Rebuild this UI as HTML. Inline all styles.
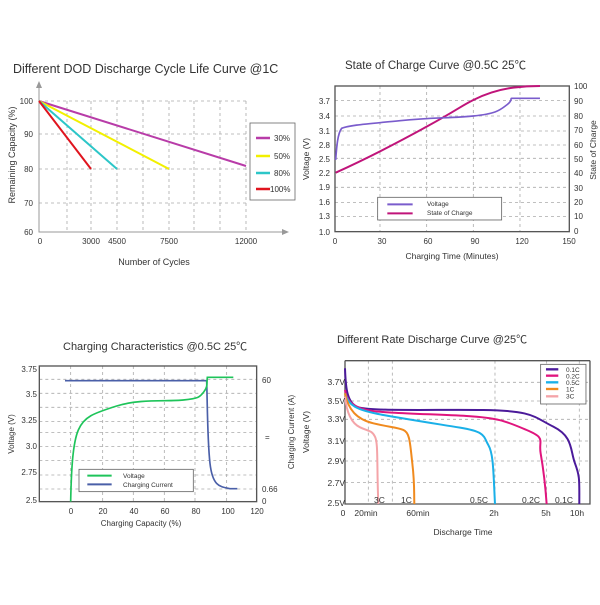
<!DOCTYPE html>
<html><head><meta charset="utf-8"><style>
body{margin:0;background:#fff;width:600px;height:600px;overflow:hidden}
text{font-family:"Liberation Sans","Noto Sans CJK SC",sans-serif;fill:#333}
</style></head><body>
<svg width="600" height="600" viewBox="0 0 600 600" xmlns="http://www.w3.org/2000/svg">
<!-- Chart 1 -->
<text x="13" y="73" font-size="12.5">Different DOD Discharge Cycle Life Curve @1C</text>
<g stroke="#aaa" stroke-dasharray="3,3" stroke-width="0.8" fill="none">
<path d="M39 101H246M39 134H246M39 169H246M39 203H246"/>
<path d="M67 101V232M91 101V232M117 101V232M143 101V232M169 101V232M194 101V232M220 101V232M246 101V232"/>
</g>
<path d="M39 85V232H285" stroke="#999" stroke-width="1" fill="none"/>
<path d="M36 88L39 81L42 88Z M282 229L289 232L282 235Z" fill="#999"/>
<g font-size="8" text-anchor="end"><text x="33" y="104">100</text><text x="33" y="137">90</text><text x="33" y="172">80</text><text x="33" y="206">70</text><text x="33" y="235">60</text></g>
<g font-size="8" text-anchor="middle"><text x="40" y="244">0</text><text x="91" y="244">3000</text><text x="117" y="244">4500</text><text x="169" y="244">7500</text><text x="246" y="244">12000</text></g>
<text x="154" y="265" font-size="9" text-anchor="middle">Number of Cycles</text>
<text transform="translate(15,155) rotate(-90)" font-size="9" text-anchor="middle">Remaining Capacity (%)</text>
<g stroke-width="2" fill="none">
<path d="M39 101L246 166" stroke="#b83ca8"/>
<path d="M39 101L169 169" stroke="#f2f000"/>
<path d="M39 101L117 169" stroke="#2cc6c8"/>
<path d="M39 101L91 169" stroke="#e0141e"/>
</g>
<rect x="250" y="123" width="45" height="77" fill="#fff" stroke="#666" stroke-width="0.8"/>
<g stroke-width="2.5"><path d="M256 138H270" stroke="#b83ca8"/><path d="M256 156H270" stroke="#f2f000"/><path d="M256 173H270" stroke="#2cc6c8"/><path d="M256 189H270" stroke="#e0141e"/></g>
<g font-size="8"><text x="274" y="141">30%</text><text x="274" y="159">50%</text><text x="274" y="176">80%</text><text x="270" y="192">100%</text></g>

<!-- Chart 2 -->
<text x="345" y="69" font-size="11.5">State of Charge Curve @0.5C 25℃</text>
<g transform="translate(300,50) scale(0.3333)">
<g stroke="#aaa" stroke-dasharray="9,9" stroke-width="2.4" fill="none">
<path d="M105 152H808M105 198H808M105 243H808M105 285H808M105 325H808M105 368H808M105 412H808M105 458H808M105 500H808"/>
<path d="M240 108V545M380 108V545M520 108V545M660 108V545"/>
</g>
<rect x="105" y="108" width="703" height="437" fill="none" stroke="#555" stroke-width="4"/>
<path d="M107 368C180 335 280 285 380 230S480 170 520 150S600 118 640 113S700 108 720 108" stroke="#c0147a" stroke-width="6" fill="none"/>
<path d="M107 330C110 290 113 250 125 235C150 225 200 222 300 212S450 205 520 198S600 180 620 165S630 145 635 145H720" stroke="#7a5ccc" stroke-width="5" fill="none"/>
<rect x="233" y="442" width="372" height="68" fill="#fff" stroke="#666" stroke-width="2.5"/>
<path d="M262 463H338" stroke="#7a5ccc" stroke-width="6"/><path d="M262 490H338" stroke="#c0147a" stroke-width="6"/>
</g>
<g font-size="6.5"><text x="427" y="206">Voltage</text><text x="427" y="215">State of Charge</text></g>
<g font-size="8" text-anchor="end"><text x="330" y="104">3.7</text><text x="330" y="119">3.4</text><text x="330" y="134">3.1</text><text x="330" y="148">2.8</text><text x="330" y="162">2.5</text><text x="330" y="176">2.2</text><text x="330" y="190">1.9</text><text x="330" y="205">1.6</text><text x="330" y="219">1.3</text><text x="330" y="235">1.0</text></g>
<g font-size="8"><text x="574" y="89">100</text><text x="574" y="104">90</text><text x="574" y="119">80</text><text x="574" y="133">70</text><text x="574" y="148">60</text><text x="574" y="162">50</text><text x="574" y="176">40</text><text x="574" y="191">30</text><text x="574" y="205">20</text><text x="574" y="219">10</text><text x="574" y="234">0</text></g>
<g font-size="8" text-anchor="middle"><text x="335" y="244">0</text><text x="382" y="244">30</text><text x="428" y="244">60</text><text x="475" y="244">90</text><text x="522" y="244">120</text><text x="569" y="244">150</text></g>
<text x="452" y="259" font-size="8.5" text-anchor="middle">Charging Time (Minutes)</text>
<text transform="translate(309,159) rotate(-90)" font-size="8.5" text-anchor="middle">Voltage (V)</text>
<text transform="translate(596,150) rotate(-90)" font-size="8.5" text-anchor="middle">State of Charge</text>

<!-- Chart 3 -->
<text x="63" y="350" font-size="11">Charging Characteristics @0.5C 25℃</text>
<g transform="translate(0,330) scale(0.3333)">
<g stroke="#aaa" stroke-dasharray="9,9" stroke-width="2.4" fill="none">
<path d="M118 148H770M118 190H770M118 232H770M118 275H770M118 308H770M118 350H770M118 392H770M118 435H770M118 477H770"/>
<path d="M212 108V515M308 108V515M400 108V515M493 108V515M585 108V515M680 108V515"/>
</g>
<rect x="118" y="108" width="652" height="407" fill="none" stroke="#555" stroke-width="4"/>
<path d="M195 152H620C622 200 622 330 630 400S660 470 690 476H712" stroke="#4a5fa8" stroke-width="5" fill="none"/>
<path d="M212 515C214 420 218 340 235 300S280 250 350 228S500 215 550 210S600 200 612 185S620 160 622 142H700" stroke="#1ec45a" stroke-width="5" fill="none"/>
<rect x="237" y="418" width="343" height="67" fill="#fff" stroke="#666" stroke-width="2.5"/>
<path d="M262 437H335" stroke="#1ec45a" stroke-width="6"/><path d="M262 463H335" stroke="#4a5fa8" stroke-width="6"/>
</g>
<g font-size="6.5"><text x="123" y="478">Voltage</text><text x="123" y="487">Charging Current</text></g>
<g font-size="8" text-anchor="end"><text x="37" y="372">3.75</text><text x="37" y="397">3.5</text><text x="37" y="423">3.25</text><text x="37" y="449">3.0</text><text x="37" y="475">2.75</text><text x="37" y="503">2.5</text></g>
<g font-size="8"><text x="262" y="383">60</text><text x="262" y="492">0.66</text><text x="262" y="504">0</text><text x="265" y="440">=</text></g>
<g font-size="8" text-anchor="middle"><text x="71" y="514">0</text><text x="103" y="514">20</text><text x="134" y="514">40</text><text x="165" y="514">60</text><text x="196" y="514">80</text><text x="228" y="514">100</text><text x="257" y="514">120</text></g>
<text x="141" y="526" font-size="8" text-anchor="middle">Charging Capacity (%)</text>
<text transform="translate(14,434) rotate(-90)" font-size="8" text-anchor="middle">Voltage (V)</text>
<text transform="translate(294,432) rotate(-90)" font-size="8" text-anchor="middle">Charging Current (A)</text>

<!-- Chart 4 -->
<text x="337" y="343" font-size="11">Different Rate Discharge Curve @25℃</text>
<g transform="translate(300,330) scale(0.3333)">
<g stroke="#aaa" stroke-dasharray="9,9" stroke-width="2.4" fill="none">
<path d="M135 157H870M135 213H870M135 268H870M135 333H870M135 393H870M135 458H870"/>
<path d="M205 92V522M277 92V522M585 92V522M740 92V522M838 92V522"/>
</g>
<path d="M135 92V522H870V92" fill="none" stroke="#555" stroke-width="4"/>
<path d="M135 92H870" stroke="#555" stroke-width="4"/>
<g fill="none" stroke-width="6">
<path d="M135 115C137 170 140 215 170 230S400 238 550 240S700 260 760 290S810 360 825 400S838 450 838 522" stroke="#4b1a9a"/>
<path d="M135 180C140 210 155 230 200 240S400 252 500 258S620 275 680 300S715 330 722 370S735 450 740 522" stroke="#e0157e"/>
<path d="M135 190C145 225 165 240 250 255S400 280 480 293S550 320 565 345S580 420 585 522" stroke="#1ab0e8"/>
<path d="M135 190C145 240 170 268 220 280S290 292 310 300S330 340 337 400S342 480 343 522" stroke="#f08a1e"/>
<path d="M135 200C140 250 155 280 180 292S215 300 225 320S230 400 235 522" stroke="#f4a4a8"/>
</g>
<rect x="722" y="103" width="136" height="119" fill="#fff" stroke="#666" stroke-width="2.5"/>
<g stroke-width="7"><path d="M738 118H775" stroke="#4b1a9a"/><path d="M738 137H775" stroke="#e0157e"/><path d="M738 157H775" stroke="#1ab0e8"/><path d="M738 177H775" stroke="#f08a1e"/><path d="M738 199H775" stroke="#f4a4a8"/></g>
</g>
<g font-size="6.5"><text x="566" y="372">0.1C</text><text x="566" y="378.5">0.2C</text><text x="566" y="385">0.5C</text><text x="566" y="391.5">1C</text><text x="566" y="398.5">3C</text></g>
<g font-size="8.5" text-anchor="end"><text x="345" y="385">3.7V</text><text x="345" y="404">3.5V</text><text x="345" y="422">3.3V</text><text x="345" y="444">3.1V</text><text x="345" y="464">2.9V</text><text x="345" y="486">2.7V</text><text x="345" y="506">2.5V</text></g>
<g font-size="8.5"><text x="374" y="503">3C</text><text x="401" y="503">1C</text><text x="470" y="503">0.5C</text><text x="522" y="503">0.2C</text><text x="555" y="503">0.1C</text></g>
<g font-size="8.5" text-anchor="middle"><text x="343" y="516">0</text><text x="366" y="516">20min</text><text x="418" y="516">60min</text><text x="494" y="516">2h</text><text x="546" y="516">5h</text><text x="577" y="516">10h</text></g>
<text x="463" y="535" font-size="8.5" text-anchor="middle">Discharge Time</text>
<text transform="translate(309,432) rotate(-90)" font-size="8.5" text-anchor="middle">Voltage (V)</text>
</svg>
</body></html>
